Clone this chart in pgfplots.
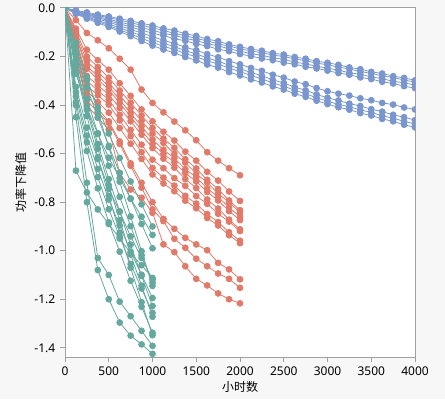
\documentclass[border=0pt]{standalone}
\usepackage{pgfplots}
\pgfplotsset{compat=1.18}
\usepackage{pgfplotstable}
\usepackage{fontspec}
\setmainfont{Noto Sans}
\newfontfamily\cjk{Noto Sans CJK SC}
\definecolor{jblue}{RGB}{122,150,206}
\definecolor{jred}{RGB}{226,122,106}
\definecolor{jgreen}{RGB}{100,168,158}
\definecolor{axgray}{RGB}{160,160,160}
\definecolor{bggray}{RGB}{247,247,247}

\pgfplotstableread{
t b1 b2 b3 b4 b5 b6 b7 b8
0 0 0 0 0 0 0 0 0
125 -0.010 -0.012 -0.014 -0.015 -0.018 -0.020 -0.022 -0.024
250 -0.018 -0.022 -0.025 -0.028 -0.032 -0.036 -0.040 -0.044
375 -0.027 -0.031 -0.036 -0.040 -0.045 -0.051 -0.056 -0.061
500 -0.035 -0.040 -0.046 -0.052 -0.058 -0.066 -0.072 -0.078
625 -0.044 -0.050 -0.058 -0.065 -0.073 -0.082 -0.090 -0.097
750 -0.053 -0.061 -0.069 -0.078 -0.088 -0.098 -0.107 -0.116
875 -0.063 -0.071 -0.081 -0.091 -0.103 -0.114 -0.125 -0.136
1000 -0.072 -0.082 -0.092 -0.104 -0.118 -0.130 -0.142 -0.155
1125 -0.084 -0.092 -0.104 -0.114 -0.133 -0.146 -0.158 -0.171
1250 -0.093 -0.105 -0.113 -0.127 -0.146 -0.159 -0.171 -0.185
1375 -0.106 -0.114 -0.125 -0.135 -0.162 -0.176 -0.188 -0.202
1500 -0.115 -0.126 -0.134 -0.148 -0.174 -0.189 -0.201 -0.216
1625 -0.128 -0.135 -0.147 -0.157 -0.190 -0.206 -0.218 -0.233
1750 -0.137 -0.148 -0.156 -0.170 -0.203 -0.219 -0.231 -0.246
1875 -0.150 -0.157 -0.168 -0.178 -0.219 -0.236 -0.248 -0.264
2000 -0.160 -0.168 -0.178 -0.190 -0.232 -0.250 -0.262 -0.278
2125 -0.169 -0.177 -0.188 -0.198 -0.247 -0.266 -0.278 -0.294
2250 -0.176 -0.184 -0.195 -0.208 -0.259 -0.279 -0.292 -0.307
2375 -0.186 -0.194 -0.205 -0.215 -0.275 -0.296 -0.309 -0.323
2500 -0.192 -0.200 -0.212 -0.225 -0.287 -0.309 -0.322 -0.336
2625 -0.202 -0.210 -0.223 -0.232 -0.303 -0.326 -0.339 -0.353
2750 -0.209 -0.217 -0.230 -0.242 -0.314 -0.339 -0.353 -0.366
2875 -0.219 -0.227 -0.240 -0.249 -0.330 -0.356 -0.370 -0.382
3000 -0.226 -0.234 -0.248 -0.258 -0.343 -0.370 -0.384 -0.396
3125 -0.234 -0.244 -0.256 -0.268 -0.353 -0.381 -0.397 -0.409
3250 -0.245 -0.251 -0.267 -0.275 -0.361 -0.394 -0.407 -0.419
3375 -0.252 -0.262 -0.273 -0.286 -0.372 -0.404 -0.420 -0.433
3500 -0.263 -0.269 -0.284 -0.293 -0.380 -0.417 -0.430 -0.443
3625 -0.270 -0.280 -0.291 -0.304 -0.391 -0.427 -0.444 -0.457
3750 -0.281 -0.286 -0.302 -0.311 -0.398 -0.440 -0.454 -0.467
3875 -0.288 -0.297 -0.308 -0.322 -0.410 -0.450 -0.467 -0.481
4000 -0.298 -0.305 -0.318 -0.330 -0.418 -0.462 -0.478 -0.492
}\bluedata

\pgfplotstableread{
t r1 r2 r3 r4 r5 r6 r7 r8 r9 r10 r11 r12 r13
0 0 0 0 0 0 0 0 0 0 0 0 0 0
125 -0.050 -0.085 -0.095 -0.105 -0.115 -0.120 -0.130 -0.140 -0.150 -0.160 -0.170 -0.180 -0.190
250 -0.103 -0.172 -0.200 -0.220 -0.240 -0.250 -0.280 -0.300 -0.320 -0.340 -0.360 -0.380 -0.400
375 -0.133 -0.215 -0.243 -0.262 -0.280 -0.295 -0.318 -0.340 -0.360 -0.388 -0.415 -0.430 -0.452
500 -0.166 -0.254 -0.287 -0.308 -0.323 -0.336 -0.357 -0.378 -0.398 -0.431 -0.467 -0.473 -0.500
625 -0.209 -0.310 -0.340 -0.360 -0.378 -0.392 -0.412 -0.440 -0.463 -0.495 -0.550 -0.560 -0.679
750 -0.254 -0.362 -0.390 -0.413 -0.433 -0.448 -0.467 -0.502 -0.528 -0.559 -0.640 -0.650 -0.748
875 -0.336 -0.418 -0.443 -0.465 -0.488 -0.504 -0.522 -0.563 -0.594 -0.622 -0.720 -0.740 -0.782
1000 -0.391 -0.467 -0.494 -0.517 -0.542 -0.560 -0.577 -0.625 -0.659 -0.686 -0.800 -0.830 -0.844
1125 -0.430 -0.510 -0.538 -0.556 -0.584 -0.601 -0.621 -0.660 -0.699 -0.723 -0.869 -0.878 -0.974
1250 -0.468 -0.546 -0.576 -0.601 -0.619 -0.636 -0.658 -0.701 -0.732 -0.755 -0.910 -0.951 -1.006
1375 -0.504 -0.592 -0.623 -0.637 -0.664 -0.680 -0.705 -0.733 -0.774 -0.794 -0.947 -0.988 -1.064
1500 -0.545 -0.629 -0.661 -0.683 -0.698 -0.715 -0.742 -0.775 -0.806 -0.825 -0.974 -1.033 -1.116
1625 -0.594 -0.675 -0.708 -0.719 -0.743 -0.758 -0.789 -0.807 -0.849 -0.865 -0.998 -1.064 -1.143
1750 -0.629 -0.711 -0.746 -0.765 -0.778 -0.793 -0.826 -0.848 -0.882 -0.896 -1.050 -1.094 -1.176
1875 -0.660 -0.756 -0.793 -0.800 -0.822 -0.837 -0.872 -0.880 -0.924 -0.936 -1.077 -1.116 -1.200
2000 -0.689 -0.795 -0.833 -0.843 -0.860 -0.874 -0.912 -0.919 -0.959 -0.969 -1.118 -1.153 -1.217
}\reddata

\pgfplotstableread{
t g1 g2 g3 g4 g5 g6 g7 g8 g9 g10 g11 g12 g13 g14 g15
0 0 0 0 0 0 0 0 0 0 0 0 0 0 0 0
125 -0.170 -0.271 -0.187 -0.670 -0.325 -0.214 -0.143 -0.347 -0.232 -0.364 -0.240 -0.388 -0.255 -0.400 -0.450
250 -0.297 -0.411 -0.327 -0.760 -0.493 -0.374 -0.286 -0.526 -0.405 -0.553 -0.420 -0.589 -0.445 -0.720 -0.800
375 -0.410 -0.519 -0.451 -0.830 -0.622 -0.516 -0.429 -0.663 -0.560 -0.697 -0.580 -0.743 -0.615 -1.030 -1.080
500 -0.517 -0.617 -0.568 -0.890 -0.745 -0.650 -0.573 -0.789 -0.705 -0.829 -0.730 -0.883 -0.774 -1.100 -1.200
625 -0.618 -0.701 -0.680 -0.950 -0.840 -0.778 -0.716 -0.896 -0.838 -0.942 -0.874 -1.004 -0.926 -1.210 -1.296
750 -0.715 -0.785 -0.786 -1.010 -0.941 -0.899 -0.859 -1.004 -0.975 -1.055 -1.016 -1.124 -1.070 -1.270 -1.350
875 -0.809 -0.860 -0.890 -1.060 -1.030 -1.018 -1.002 -1.099 -1.104 -1.156 -1.144 -1.231 -1.212 -1.330 -1.386
1000 -0.900 -0.935 -0.990 -1.112 -1.120 -1.132 -1.145 -1.195 -1.228 -1.256 -1.272 -1.338 -1.348 -1.392 -1.425
}\greendata

\begin{document}
\begin{tikzpicture}
\fill[bggray] (-48.75pt,-31.5pt) rectangle (285pt,267.75pt);
\begin{axis}[
  at={(0,0)}, anchor=south west,
  scale only axis, width=262.5pt, height=261.75pt,
  xmin=0, xmax=4000, ymin=-1.438, ymax=0,
  xtick={0,500,1000,1500,2000,2500,3000,3500,4000},
  ytick={-1.4,-1.2,-1,-0.8,-0.6,-0.4,-0.2,0},
  xtick pos=bottom, ytick pos=left,
  tick align=outside, major tick length=3.75pt,
  axis line style={color=axgray, line width=0.75pt},
  tick style={color=axgray, line width=0.75pt},
  axis background/.style={fill=white},
  /pgf/number format/assume math mode=true,
  ticklabel style={font=\fontsize{9}{10}\selectfont, text=black},
  x tick label style={/pgf/number format/1000 sep={}},
  y tick label style={/pgf/number format/.cd, fixed, fixed zerofill, precision=1},
  xlabel={\cjk 小时数}, ylabel={\cjk 功率下降值},
  every axis x label/.style={at={(axis description cs:0.5,-0.086)}, anchor=center, font=\fontsize{9}{10}\selectfont},
  every axis y label/.style={at={(axis description cs:-0.1266,0.5)}, anchor=center, rotate=90, font=\fontsize{9}{10}\selectfont},
  clip marker paths=true,
  blueline/.style={color=jblue, line width=0.6pt, mark=*, mark size=2.2pt, mark options={solid}},
  redline/.style={color=jred, line width=0.6pt, mark=*, mark size=2.2pt, mark options={solid}},
  greenline/.style={color=jgreen, line width=0.6pt, mark=*, mark size=2.2pt, mark options={solid}},
]
\pgfplotsinvokeforeach{1,...,8}{\addplot[blueline] table[x=t,y=b#1]{\bluedata};}
\pgfplotsinvokeforeach{1,...,13}{\addplot[redline] table[x=t,y=r#1]{\reddata};}
\pgfplotsinvokeforeach{1,...,15}{\addplot[greenline] table[x=t,y=g#1]{\greendata};}
\end{axis}
\pgfresetboundingbox
\useasboundingbox (-48.75pt,-31.5pt) rectangle (285pt,267.75pt);
\end{tikzpicture}
\end{document}
